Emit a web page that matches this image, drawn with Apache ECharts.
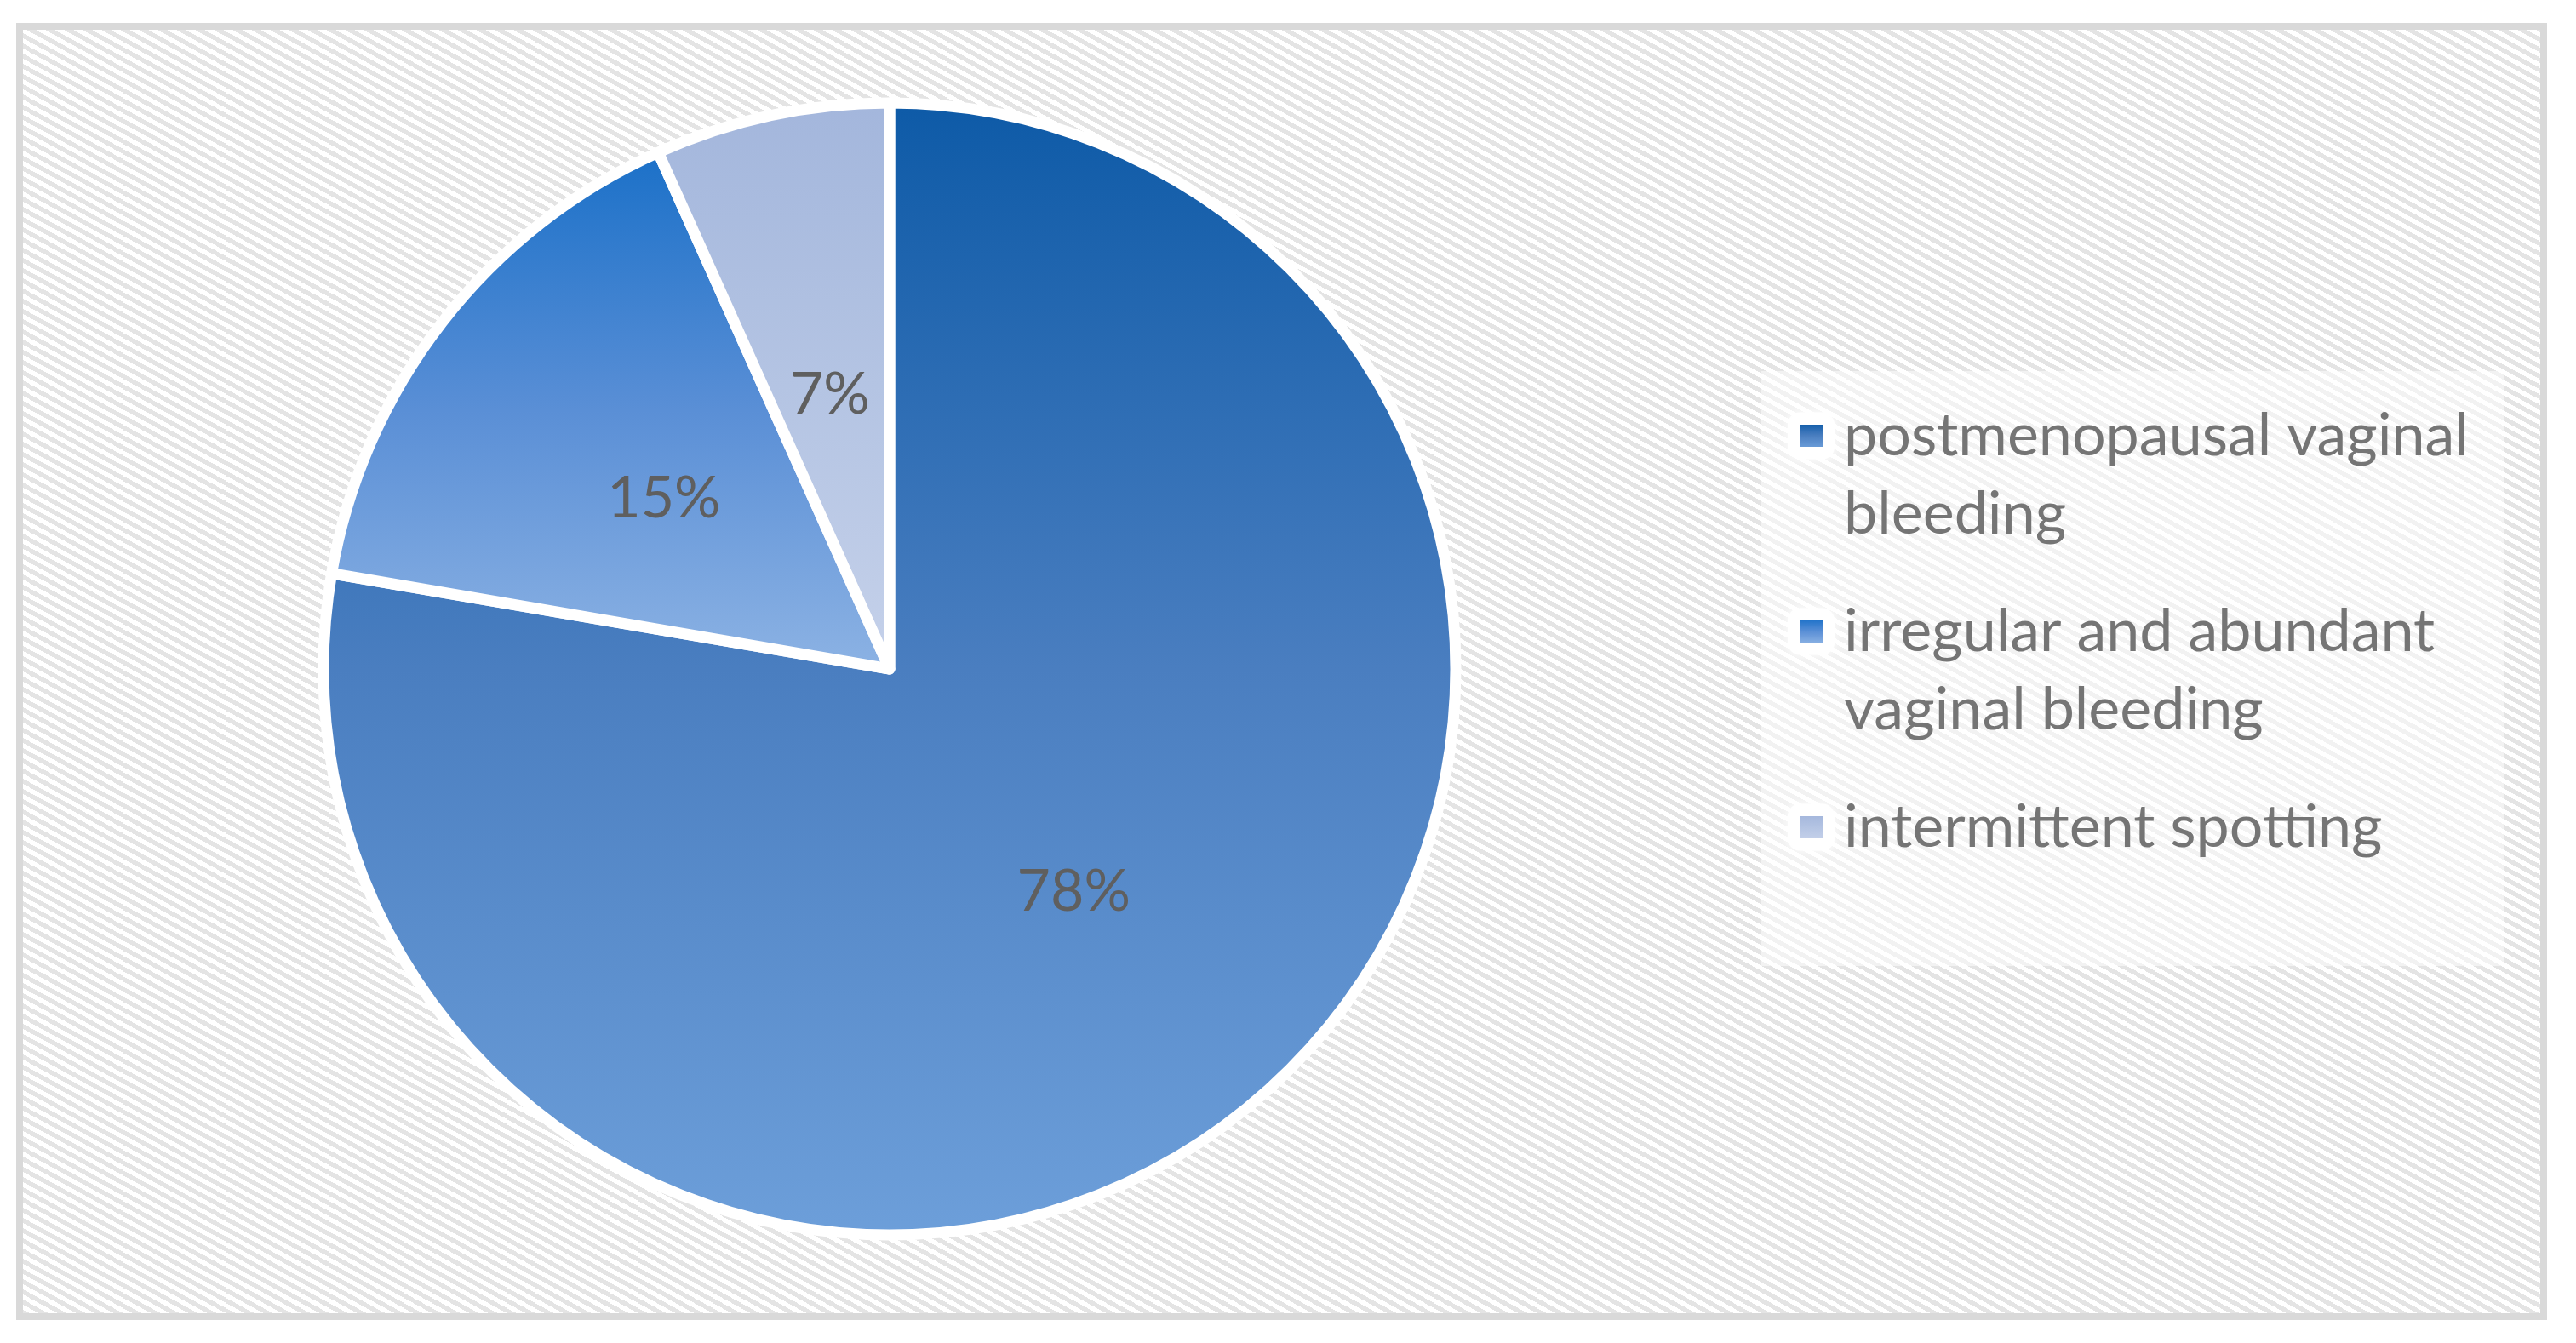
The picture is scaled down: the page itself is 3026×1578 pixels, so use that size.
<!DOCTYPE html>
<html><head><meta charset="utf-8">
<script src="https://cdn.jsdelivr.net/npm/echarts@6/dist/echarts.min.js"></script>
<style>html,body{margin:0;padding:0;background:#fff}#c{width:3026px;height:1578px}</style>
</head><body><div id="c"></div>
<script>
// ---- data ----
const categories = ['postmenopausal vaginal bleeding', 'irregular and abundant vaginal bleeding', 'intermittent spotting'];
const values = [77.7, 15.6, 6.7];
const percentLabels = ['78%', '15%', '7%'];

// ---- styles ----
const sliceGradients = [
  ['#0d5aa7', '#4a7ec0', '#6d9fda'],
  ['#1a70c8', '#5a8fd6', '#8db3e4'],
  ['#a3b6dc', '#b4c4e3', '#c5d1ea']
];
function grad(stops) {
  return new echarts.graphic.LinearGradient(0, 0, 0, 1, [
    {offset: 0, color: stops[0]}, {offset: 0.5, color: stops[1]}, {offset: 1, color: stops[2]}
  ]);
}
function makePattern() {
  const W = 22, H = 12;
  const c = document.createElement('canvas'); c.width = W; c.height = H;
  const ctx = c.getContext('2d');
  const img = ctx.createImageData(W, H);
  for (let y = 0; y < H; y++) for (let x = 0; x < W; x++) {
    const v = (((y - x * H / W) % H) + H) % H;
    const g = v < H / 2 ? 228 : 255;
    const k = (y * W + x) * 4;
    img.data[k] = g; img.data[k + 1] = g; img.data[k + 2] = g; img.data[k + 3] = 255;
  }
  ctx.putImageData(img, 0, 0);
  return c;
}
function wrap(name) {
  const words = name.split(' ');
  const lines = []; let cur = '';
  for (const w of words) {
    const t = cur ? cur + ' ' + w : w;
    if (t.length > 22 && cur) { lines.push(cur); cur = w; } else cur = t;
  }
  lines.push(cur);
  if (lines.length === 1) return '\n' + lines[0] + '\n ';
  return '\n' + lines.join('\n');
}

const FONT = 'Lato';
const chart = echarts.init(document.getElementById('c'), null, {renderer: 'canvas'});
const legendCommon = {
  orient: 'vertical', top: 374, padding: 0, itemGap: -46,
  formatter: wrap, selectedMode: false,
  data: categories
};
chart.setOption({
  animation: false,
  backgroundColor: '#ffffff',
  graphic: [
    {type: 'rect', z: -10, shape: {x: 23, y: 31, width: 2965, height: 1516},
      style: {fill: {image: makePattern(), repeat: 'repeat'}, stroke: '#d9d9d9', lineWidth: 8}},
    {type: 'rect', z: -9, shape: {x: 2069, y: 436, width: 872, height: 699},
      style: {fill: 'rgba(255,255,255,0.5)'}}
  ],
  legend: [
    Object.assign({}, legendCommon, {
      left: 2100, z: 3, icon: 'roundRect', itemWidth: 53, itemHeight: 53,
      itemStyle: {color: '#ffffff', shadowBlur: 8, shadowColor: 'rgba(255,255,255,0.9)'},
      textStyle: {fontSize: 70, lineHeight: 92, fontFamily: FONT, color: 'rgba(0,0,0,0)', padding: [0, 0, 0, 19]}
    }),
    Object.assign({}, legendCommon, {
      left: 2113, z: 4, icon: 'rect', itemWidth: 28, itemHeight: 28,
      textStyle: {fontSize: 70, lineHeight: 92, fontFamily: FONT, color: '#757575', padding: [0, 0, 0, 19]}
    })
  ],
  series: [{
    type: 'pie',
    center: [1045, 786],
    radius: 665,
    startAngle: 90,
    clockwise: true,
    avoidLabelOverlap: false,
    label: {show: true, position: 'inside', formatter: p => percentLabels[p.dataIndex],
      fontSize: 68, fontFamily: FONT, color: '#5f5f5f', offset: [0, 6]},
    labelLine: {show: false},
    itemStyle: {borderColor: '#ffffff', borderWidth: 13},
    emphasis: {disabled: true},
    data: categories.map((n, i) => ({name: n, value: values[i], itemStyle: {color: grad(sliceGradients[i])}}))
  }]
});
</script>
</body></html>
